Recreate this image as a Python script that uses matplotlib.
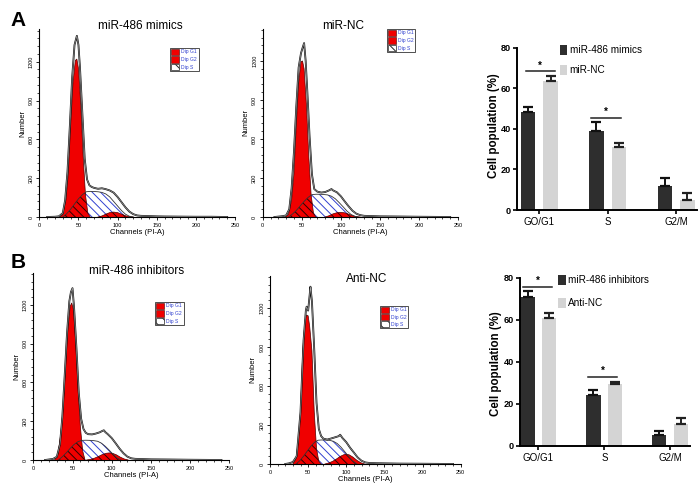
import numpy as np
import matplotlib
matplotlib.use('Agg')
import matplotlib.pyplot as plt
from matplotlib.patches import Rectangle, Polygon
from matplotlib.ticker import MultipleLocator

plt.rcParams['font.family'] = ['Liberation Sans', 'DejaVu Sans']
plt.rcParams['hatch.linewidth'] = 0.7

# ---------------- histogram data (channel, count) ----------------
A1_g1_ch = [26, 30, 34, 37, 40, 43, 46, 48, 50, 53, 56, 59, 62, 65]
A1_g1 = [0, 20, 130, 330, 700, 1030, 1210, 1220, 1150, 860, 470, 170, 30, 0]
A1_s_ch = [30, 35, 40, 45, 50, 55, 60, 65, 70, 75, 80, 85, 90, 95, 100, 105, 110, 115, 120]
A1_s = [0, 25, 60, 100, 140, 172, 195, 198, 197, 195, 190, 178, 155, 120, 85, 50, 22, 6, 0]
A1_g2_ch = [75, 80, 85, 90, 95, 100, 105, 110, 115, 120]
A1_g2 = [0, 8, 22, 34, 38, 34, 22, 10, 3, 0]
A1_d_ch = [10, 20, 25, 30, 33, 36, 39, 42, 45, 48, 50, 52, 55, 58, 61, 64, 67, 70, 75, 80, 85, 90,
           95, 100, 105, 110, 115, 120, 125, 130, 140, 150, 160, 180, 200, 220, 240]
A1_d = [0, 2, 5, 30, 130, 350, 700, 1080, 1330, 1400, 1330, 1150, 800, 450, 290, 245, 232, 225, 218,
        222, 215, 205, 188, 155, 115, 75, 42, 22, 12, 9, 7, 5, 4, 3, 2, 2, 0]

A2_g1_ch = [29, 33, 37, 40, 43, 46, 49, 51, 53, 56, 59, 62, 65, 68]
A2_g1 = [0, 20, 130, 330, 700, 1030, 1195, 1200, 1140, 860, 470, 170, 30, 0]
A2_s_ch = [33, 38, 43, 48, 53, 58, 63, 68, 73, 78, 83, 88, 93, 98, 103, 108, 113, 118, 122]
A2_s = [0, 22, 50, 85, 120, 150, 172, 175, 175, 173, 170, 160, 140, 110, 78, 45, 20, 5, 0]
A2_g2_ch = [80, 85, 90, 95, 100, 105, 110, 115, 120, 125]
A2_g2 = [0, 10, 24, 33, 36, 32, 22, 10, 3, 0]
A2_d_ch = [15, 20, 25, 30, 34, 37, 40, 43, 46, 49, 51, 53, 55, 57, 60, 63, 66, 70, 75, 80, 85, 88,
           90, 95, 100, 105, 110, 115, 120, 125, 130, 140, 150, 170, 200, 240]
A2_d = [0, 3, 6, 12, 60, 220, 500, 850, 1150, 1260, 1300, 1338, 1200, 980, 620, 330, 215, 195, 188,
        192, 205, 215, 205, 190, 160, 120, 82, 48, 25, 14, 9, 7, 5, 4, 2, 0]

B1_g1_ch = [27, 31, 35, 38, 41, 44, 47, 49, 51, 54, 57, 60, 63, 66]
B1_g1 = [0, 30, 200, 400, 700, 1000, 1190, 1215, 1170, 920, 560, 260, 70, 0]
B1_s_ch = [32, 37, 42, 47, 52, 57, 62, 67, 72, 77, 82, 87, 92, 97, 102, 107, 112]
B1_s = [0, 25, 55, 90, 120, 142, 152, 153, 152, 150, 145, 130, 105, 75, 42, 15, 0]
B1_g2_ch = [68, 73, 78, 83, 88, 93, 97, 101, 106, 111, 116, 121]
B1_g2 = [0, 5, 14, 27, 42, 52, 55, 52, 40, 22, 8, 0]
B1_d_ch = [15, 20, 25, 30, 34, 37, 40, 43, 46, 48, 50, 52, 55, 58, 61, 64, 67, 70, 75, 80, 85, 88,
           90, 92, 95, 100, 105, 110, 115, 120, 125, 130, 140, 150, 170, 200, 240]
B1_d = [0, 4, 8, 25, 120, 330, 650, 980, 1230, 1300, 1330, 1180, 870, 520, 320, 240, 210, 200, 198,
        205, 215, 225, 230, 215, 200, 170, 130, 88, 52, 26, 13, 9, 7, 5, 4, 2, 0]

B2_g1_ch = [30, 34, 37, 40, 43, 46, 48, 50, 52, 55, 58, 61, 64, 67]
B2_g1 = [0, 40, 170, 400, 880, 1110, 1146, 1140, 1060, 870, 400, 120, 20, 0]
B2_s_ch = [34, 39, 44, 49, 54, 59, 63, 68, 73, 78, 83, 88, 93, 98, 103, 108, 114]
B2_s = [0, 25, 60, 100, 140, 170, 183, 185, 184, 182, 175, 158, 130, 95, 58, 25, 0]
B2_g2_ch = [72, 77, 82, 87, 92, 97, 100, 104, 109, 114, 119, 124]
B2_g2 = [0, 8, 20, 38, 58, 72, 75, 70, 52, 28, 10, 0]
B2_d_ch = [20, 25, 30, 35, 40, 44, 47, 48, 50, 52, 53, 55, 58, 61, 64, 67, 70, 75, 80, 85, 90, 92,
           95, 100, 105, 110, 115, 120, 125, 130, 140, 150, 170, 200, 240]
B2_d = [0, 5, 15, 60, 400, 950, 1180, 1210, 1180, 1300, 1364, 1250, 880, 470, 270, 215, 195, 188,
        196, 205, 214, 225, 200, 168, 125, 88, 50, 25, 12, 8, 6, 5, 3, 2, 0]

hist_titles = ["miR-486 mimics", "miR-NC", "miR-486 inhibitors", "Anti-NC"]
hist_legend = ["Dip G1", "Dip G2", "Dip S"]
hist_xticks = [0, 50, 100, 150, 200, 250]
hist_yticks = [0, 300, 600, 900, 1200]

# ---------------- bar data ----------------
phases = ["GO/G1", "S", "G2/M"]
A_names = ["miR-486 mimics", "miR-NC"]
A_dark = [48.1, 39.1, 12.0]
A_dark_err = [2.8, 4.1, 3.9]
A_light = [63.5, 31.2, 4.8]
A_light_err = [2.7, 2.0, 3.4]
A_sig_level = [68.5, 45.5]

B_names = ["miR-486 inhibitors", "Anti-NC"]
B_dark = [70.7, 24.1, 5.1]
B_dark_err = [3.1, 2.4, 2.0]
B_light = [60.7, 29.2, 10.2]
B_light_err = [2.6, 1.3, 2.8]
B_sig_level = [75.7, 32.9]

bar_yticks = [0, 20, 40, 60, 80]

# ---------------- drawing ----------------
W, H = 700, 487
fig = plt.figure(figsize=(7, 4.87), dpi=100)

RED = '#f00000'
BLUE = '#3040d0'
DARK = '#2e2e2e'
LIGHT = '#d4d4d4'


def rect_fig(x0, x1, ytop, ybot):
    return [x0 / W, 1 - ybot / H, (x1 - x0) / W, (ybot - ytop) / H]


def fig_rect(x0, y0, x1, y1, **kw):
    r = Rectangle((x0 / W, 1 - y1 / H), (x1 - x0) / W, (y1 - y0) / H,
                  transform=fig.transFigure, **kw)
    fig.add_artist(r)


def fig_text(x, y, s, **kw):
    fig.text(x / W, 1 - y / H, s, **kw)


def poly(ax, xs, ys):
    verts = [(xs[0], 0)] + list(zip(xs, ys)) + [(xs[-1], 0)]
    return Polygon(verts, closed=True, transform=ax.transData)


def hist(x0, x1, y0, pxper, title, title_xy, leg, g1c, g1, sc, s, g2c, g2, dc, d):
    ytop = y0 - 1450 * pxper
    ax = fig.add_axes(rect_fig(x0, x1, ytop, y0))
    ax.set_xlim(0, 250)
    ax.set_ylim(0, 1450)
    ax.patch.set_alpha(0)
    ax.fill_between(sc, 0, s, facecolor='white', edgecolor=BLUE, hatch='\\' * 4,
                    linewidth=0, zorder=1)
    ax.fill_between(g1c, 0, g1, facecolor=RED, edgecolor='none', zorder=2)
    ax.fill_between(g2c, 0, g2, facecolor=RED, edgecolor='none', zorder=2)
    for cc, vv in ((g1c, g1), (g2c, g2)):
        hc = ax.fill_between(sc, 0, s, facecolor='none', edgecolor='#300000',
                             hatch='\\' * 4, linewidth=0, zorder=3)
        hc.set_clip_path(poly(ax, cc, vv))
    ax.plot(g1c, g1, color='#500000', lw=0.5, zorder=3)
    ax.plot(g2c, g2, color='#500000', lw=0.5, zorder=3)
    ax.plot(sc, s, color='#333333', lw=0.6, zorder=3)
    ax.plot(dc, d, color='#111111', lw=1.3, zorder=4)
    ax.plot(dc, d, color='#a8a8a8', lw=0.45, zorder=5)
    for side in ('top', 'right'):
        ax.spines[side].set_visible(False)
    for side in ('left', 'bottom'):
        ax.spines[side].set_linewidth(0.8)
    ax.set_xticks(hist_xticks)
    ax.set_yticks(hist_yticks)
    ax.xaxis.set_minor_locator(MultipleLocator(10))
    ax.yaxis.set_minor_locator(MultipleLocator(60))
    ax.tick_params(which='major', length=2.5, width=0.6, labelsize=4, pad=1.5)
    ax.tick_params(which='minor', length=1.4, width=0.5)
    for lab in ax.get_yticklabels():
        lab.set_rotation(90)
        lab.set_va('center')
    ax.set_xlabel("Channels (PI-A)", fontsize=5.5, labelpad=1)
    ax.set_ylabel("Number", fontsize=5.5, labelpad=2)
    fig_text(title_xy[0], title_xy[1], title, fontsize=8.5, ha='center', va='center')
    # legend box
    lx0, ly0, lx1, ly1 = leg
    fig_rect(lx0, ly0, lx1, ly1, facecolor='white', edgecolor='#333333', lw=0.6)
    rh = (ly1 - ly0) / 3
    for i, name in enumerate(hist_legend):
        ya = ly0 + i * rh + 0.8
        yb = ly0 + (i + 1) * rh - 0.8
        if i < 2:
            fig_rect(lx0 + 0.8, ya, lx0 + 9, yb, facecolor=RED, edgecolor='#400000', lw=0.4)
        else:
            fig_rect(lx0 + 0.8, ya, lx0 + 9, yb, facecolor='white', edgecolor='#222222',
                     lw=0.5, hatch='\\' * 3)
        fig_text(lx0 + 11, (ya + yb) / 2, name, fontsize=3.6, color=BLUE,
                 ha='left', va='center')
    return ax


hist(39.3, 235, 217, 155.3 / 1200, hist_titles[0], (140, 26), (170, 48, 199, 71),
     A1_g1_ch, A1_g1, A1_s_ch, A1_s, A1_g2_ch, A1_g2, A1_d_ch, A1_d)
hist(262.7, 458, 217, 0.13, hist_titles[1], (343, 26), (387, 29, 415, 52),
     A2_g1_ch, A2_g1, A2_s_ch, A2_s, A2_g2_ch, A2_g2, A2_d_ch, A2_d)
hist(33.3, 229.3, 460, 0.1292, hist_titles[2], (137, 271), (155, 302, 184, 325),
     B1_g1_ch, B1_g1, B1_s_ch, B1_s, B1_g2_ch, B1_g2, B1_d_ch, B1_d)
hist(270, 460.7, 464, 0.13, hist_titles[3], (367, 279), (380, 306, 408, 328),
     B2_g1_ch, B2_g1, B2_s_ch, B2_s, B2_g2_ch, B2_g2, B2_d_ch, B2_d)


def bars(x0, x1, ytop, ybot, xlim, dark, derr, light, lerr, sig, sig_spans, names, leg_px,
         ylab_px):
    ax = fig.add_axes(rect_fig(x0, x1, ytop, ybot))
    x = np.arange(len(phases))
    off, wd = 0.165, 0.215
    ax.bar(x - off, dark, wd, color=DARK, zorder=2)
    ax.bar(x + off, light, wd, color=LIGHT, zorder=2)
    ax.errorbar(x - off, dark, yerr=[np.zeros(3), derr], fmt='none', ecolor='#111111',
                elinewidth=1.4, capsize=3.6, capthick=1.6, zorder=3)
    ax.errorbar(x + off, light, yerr=[np.zeros(3), lerr], fmt='none', ecolor='#222222',
                elinewidth=1.4, capsize=3.6, capthick=1.6, zorder=3)
    for lvl, (a, b) in zip(sig, sig_spans):
        ax.plot([a, b], [lvl, lvl], color='#222222', lw=1.1, zorder=3)
        ax.text((a + b) / 2, lvl + 0.3, '*', ha='center', va='bottom', fontsize=7,
                fontweight='bold')
    ax.set_xlim(*xlim)
    ax.set_ylim(0, 80)
    ax.set_yticks(bar_yticks)
    ax.set_xticks(x)
    ax.set_xticklabels(phases)
    for side in ('top', 'right'):
        ax.spines[side].set_visible(False)
    for side in ('left', 'bottom'):
        ax.spines[side].set_linewidth(1.4)
    ax.tick_params(axis='x', length=3, width=1.2, labelsize=7, pad=2)
    ax.tick_params(axis='y', length=3, width=1.2, labelsize=6.6, pad=1.2)
    for lab in ax.get_yticklabels():
        lab.set_fontweight('bold')
    fig_text(ylab_px[0], ylab_px[1], "Cell population (%)", fontsize=8.3,
             fontweight='bold', rotation=90, ha='center', va='center')
    lx, ly1, ly2 = leg_px
    for yy, col, nm in ((ly1, DARK, names[0]), (ly2, LIGHT, names[1])):
        fig_rect(lx, yy - 5, lx + 7.5, yy + 5, facecolor=col, edgecolor='none')
        fig_text(lx + 10, yy, nm, fontsize=7.2, ha='left', va='center')
    return ax


bars(516.7, 696.7, 47.7, 210, (-0.33, 2.30), A_dark, A_dark_err, A_light, A_light_err,
     A_sig_level, [(-0.20, 0.23), (0.755, 1.19)], A_names, (559.5, 50, 70), (494.5, 126))
bars(520, 690, 277.7, 445.7, (-0.28, 2.30), B_dark, B_dark_err, B_light, B_light_err,
     B_sig_level, [(-0.236, 0.203), (0.753, 1.188)], B_names, (558, 280, 302.7), (496, 364))

fig_text(18, 20, "A", fontsize=15, fontweight='bold', ha='center', va='center')
fig_text(18, 263, "B", fontsize=15, fontweight='bold', ha='center', va='center')

fig.savefig('out.png', dpi=100)
